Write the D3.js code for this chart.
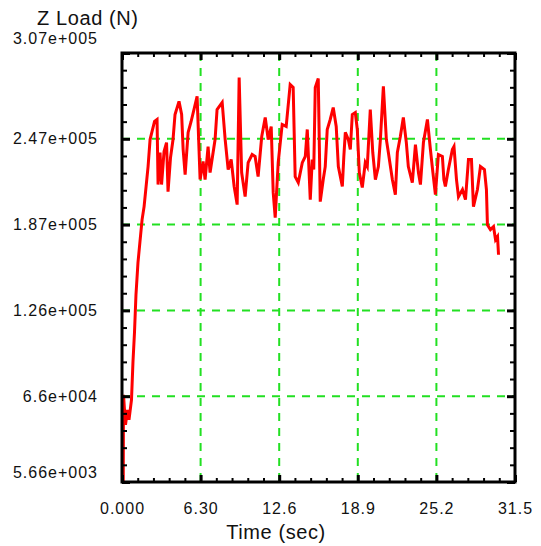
<!DOCTYPE html>
<html lang="en">
<head>
    <meta charset="utf-8">
    <title>Z Load (N)</title>
    <style>
    html, body {
        margin: 0;
        background-color: white;
    }

    svg {
        background-color: white;
        font-family: 'Liberation Sans', Arial, sans-serif;
    }

    .tick-label {
        font-size: 16px;
        letter-spacing: 1px;
        fill: #111;
    }

    .axis-title {
        font-size: 20px;
        letter-spacing: 0.6px;
        fill: #111;
    }

    .grid line {
        stroke: #22e022;
        stroke-width: 2px;
        stroke-dasharray: 8, 7;
    }
    </style>
</head>
<body>
    <div id="vis"></div>

    <script src="https://d3js.org/d3.v7.min.js"></script>
    <script>
// time (sec) and Z load (N)
var timeSec = [0.10, 0.12, 0.28, 0.44, 0.56, 0.76, 0.88, 1.00, 1.12, 1.28,
    1.44, 1.61, 1.77, 1.93, 2.09, 2.25, 2.41, 2.61, 2.81, 2.89,
    3.05, 3.17, 3.37, 3.57, 3.69, 3.89, 4.09, 4.25, 4.57, 4.78,
    4.90, 5.06, 5.30, 5.54, 6.02, 6.26, 6.50, 6.66, 6.90, 7.06,
    7.46, 7.62, 8.03, 8.27, 8.51, 8.75, 8.99, 9.23, 9.39, 9.59,
    9.87, 10.11, 10.43, 10.67, 10.91, 11.20, 11.48, 11.72, 11.96, 12.12,
    12.28, 12.52, 12.84, 13.16, 13.48, 13.72, 13.88, 14.13, 14.45, 14.69,
    14.85, 15.09, 15.25, 15.37, 15.49, 15.73, 15.89, 16.13, 16.29, 16.45,
    16.69, 16.93, 17.17, 17.34, 17.66, 17.78, 17.90, 18.14, 18.30, 18.46,
    18.70, 18.86, 19.02, 19.26, 19.50, 19.66, 19.90, 20.10, 20.31, 20.55,
    20.71, 20.95, 21.19, 21.35, 21.67, 21.91, 22.07, 22.31, 22.55, 22.79,
    22.95, 23.27, 23.52, 23.76, 23.92, 24.16, 24.48, 24.72, 24.92, 25.12,
    25.36, 25.68, 25.80, 25.92, 26.16, 26.48, 26.61, 26.81, 26.97, 27.29,
    27.53, 27.77, 28.01, 28.17, 28.49, 28.73, 29.05, 29.21, 29.29, 29.53,
    29.78, 29.94, 30.10, 30.18];

var zLoad = [5660, 66900, 45800, 56300, 49300, 63300, 90100, 110500, 137200, 159700,
    174500, 190000, 199100, 213200, 227200, 246200, 251900, 258900, 260300, 214600,
    237100, 214600, 237800, 244100, 209600, 233600, 246200, 263800, 273000, 263800,
    239200, 221600, 251200, 258900, 276500, 218100, 230800, 218100, 241300, 223000,
    246200, 267300, 272300, 246200, 225100, 232200, 213200, 200500, 289800, 223000,
    206100, 230000, 235700, 234300, 220200, 248300, 261700, 246200, 255400, 208900,
    191400, 230000, 256800, 255400, 284900, 282800, 220200, 216000, 230000, 234300,
    253300, 204000, 232200, 225100, 282800, 289100, 202600, 218100, 227200, 253300,
    260300, 268700, 255400, 227200, 213200, 234300, 251200, 246200, 239200, 263800,
    265200, 253300, 223000, 212500, 230000, 227200, 267300, 237100, 218100, 227200,
    246200, 283500, 246200, 237100, 218100, 207500, 237100, 248300, 261700, 244100,
    227200, 216000, 242700, 223000, 214600, 244100, 260300, 239200, 223000, 207500,
    235700, 234300, 218100, 213200, 225100, 239200, 241300, 218100, 206100, 211100,
    204000, 232200, 232200, 199100, 211100, 227200, 225100, 211100, 186400, 182900,
    185000, 175900, 178000, 165300];

var xTicks = [0, 6.3, 12.6, 18.9, 25.2, 31.5];
var xTickLabels = ['0.000', '6.30', '12.6', '18.9', '25.2', '31.5'];

var yTicks = [5660, 65930, 126200, 186470, 246730, 307000];
var yTickLabels = ['5.66e+003', '6.6e+004', '1.26e+005', '1.87e+005', '2.47e+005', '3.07e+005'];

var width = 541;
var height = 546;

var plot = { left: 122, right: 515, top: 53, bottom: 482 };

var svg = d3.select('#vis')
    .append('svg')
    .attr('width', width)
    .attr('height', height);

var x_scale = d3.scaleLinear()
    .domain([xTicks[0], xTicks[xTicks.length - 1]])
    .range([plot.left, plot.right]);

var y_scale = d3.scaleLinear()
    .domain([yTicks[0], yTicks[yTicks.length - 1]])
    .range([plot.bottom, plot.top]);

// 5 minor steps between each pair of major ticks
function minorTicks(ticks) {
    var out = [];
    for (var i = 0; i < ticks.length - 1; i++) {
        for (var k = 1; k < 5; k++) {
            out.push(ticks[i] + (ticks[i + 1] - ticks[i]) * k / 5);
        }
    }
    return out;
}

var xMinor = minorTicks(xTicks);
var yMinor = minorTicks(yTicks);

// grid
var grid = svg.append('g').attr('class', 'grid');

grid.selectAll('.vgrid')
    .data(xTicks.slice(1, -1))
    .enter()
    .append('line')
    .attr('class', 'vgrid')
    .attr('x1', function(d) { return x_scale(d); })
    .attr('x2', function(d) { return x_scale(d); })
    .attr('y1', plot.top)
    .attr('y2', plot.bottom);

grid.selectAll('.hgrid')
    .data(yTicks.slice(1, -1))
    .enter()
    .append('line')
    .attr('class', 'hgrid')
    .attr('x1', plot.left)
    .attr('x2', plot.right)
    .attr('y1', function(d) { return y_scale(d); })
    .attr('y2', function(d) { return y_scale(d); });

// the load trace
var points = timeSec.map(function(t, i) {
    return { t: t, v: zLoad[i] };
});

var line = d3.line()
    .x(function(d) { return x_scale(d.t); })
    .y(function(d) { return y_scale(d.v); });

svg.append('path')
    .datum(points)
    .attr('fill', 'none')
    .attr('stroke', '#ff0000')
    .attr('stroke-width', 3)
    .attr('stroke-linejoin', 'miter')
    .attr('d', line);

// axes: ticks point inward on all four sides
function styleAxis(g, w) {
    g.select('.domain').remove();
    g.selectAll('.tick line')
        .attr('stroke', '#000')
        .attr('stroke-width', w);
}

svg.append('g')
    .attr('transform', 'translate(0,' + plot.bottom + ')')
    .call(d3.axisBottom(x_scale).tickValues(xMinor).tickSize(-4).tickFormat(''))
    .call(styleAxis, 2);

svg.append('g')
    .attr('transform', 'translate(0,' + plot.top + ')')
    .call(d3.axisTop(x_scale).tickValues(xMinor).tickSize(-4).tickFormat(''))
    .call(styleAxis, 2);

svg.append('g')
    .attr('transform', 'translate(' + plot.left + ',0)')
    .call(d3.axisLeft(y_scale).tickValues(yMinor).tickSize(-5).tickFormat(''))
    .call(styleAxis, 2);

svg.append('g')
    .attr('transform', 'translate(' + plot.right + ',0)')
    .call(d3.axisRight(y_scale).tickValues(yMinor).tickSize(-5).tickFormat(''))
    .call(styleAxis, 2);

var xAxis = svg.append('g')
    .attr('transform', 'translate(0,' + plot.bottom + ')')
    .call(d3.axisBottom(x_scale)
        .tickValues(xTicks)
        .tickSize(-7)
        .tickPadding(21)
        .tickFormat(function(d, i) { return xTickLabels[i]; }))
    .call(styleAxis, 3);

xAxis.selectAll('text')
    .attr('class', 'tick-label')
    .attr('fill', null);

svg.append('g')
    .attr('transform', 'translate(0,' + plot.top + ')')
    .call(d3.axisTop(x_scale).tickValues(xTicks).tickSize(-7).tickFormat(''))
    .call(styleAxis, 3);

var yAxis = svg.append('g')
    .attr('transform', 'translate(' + plot.left + ',0)')
    .call(d3.axisLeft(y_scale)
        .tickValues(yTicks)
        .tickSize(-8)
        .tickPadding(24)
        .tickFormat(function(d, i) { return yTickLabels[i]; }))
    .call(styleAxis, 3);

yAxis.selectAll('text')
    .attr('class', 'tick-label')
    .attr('fill', null)
    .attr('y', function(d, i) {
        if (i === 0) return -10;
        if (i === yTicks.length - 1) return -15;
        return 0;
    });

svg.append('g')
    .attr('transform', 'translate(' + plot.right + ',0)')
    .call(d3.axisRight(y_scale).tickValues(yTicks).tickSize(-8).tickFormat(''))
    .call(styleAxis, 3);

// frame
svg.append('rect')
    .attr('x', plot.left)
    .attr('y', plot.top)
    .attr('width', plot.right - plot.left)
    .attr('height', plot.bottom - plot.top)
    .attr('fill', 'none')
    .attr('stroke', '#000')
    .attr('stroke-width', 3);

// titles
svg.append('text')
    .attr('class', 'axis-title')
    .attr('x', 37)
    .attr('y', 25)
    .text('Z Load (N)');

svg.append('text')
    .attr('class', 'axis-title')
    .attr('x', 276)
    .attr('y', 539)
    .attr('text-anchor', 'middle')
    .text('Time (sec)');
    </script>
</body>
</html>
